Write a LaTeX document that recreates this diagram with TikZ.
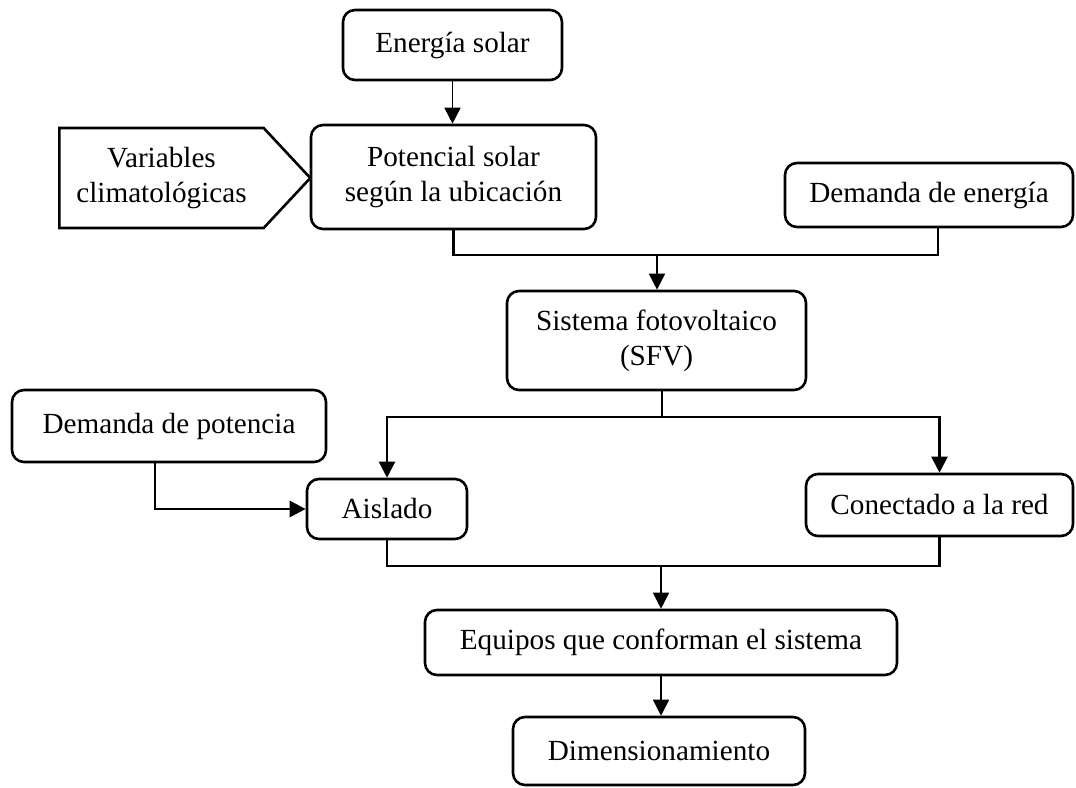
\documentclass[tikz,border=0pt]{standalone}
\usepackage{fontspec}
\setmainfont{Liberation Serif}
\usetikzlibrary{arrows.meta,positioning,shapes.symbols}

\newcommand{\flowfont}{\fontsize{14.6}{17.5}\selectfont}

\begin{document}
\begin{tikzpicture}[x=0.5pt,y=-0.5pt,>={Triangle[length=8pt,width=8pt]},
        flowbox/.style={draw,line width=1.3pt,rounded corners=6pt,align=center,
                        inner sep=2pt,font=\flowfont},
        inbox/.style={draw,line width=1.3pt,shape=signal,signal to=east,
                      signal pointer angle=94,align=center,inner sep=2pt,font=\flowfont},
        link/.style={line width=0.8pt},
        bus/.style={line width=1.1pt}]
        \useasboundingbox (0,0) rectangle (1076,787);

        \node[flowbox,minimum width=109.5pt,minimum height=35pt] (energia) at (452.5,45) {Energía solar};
        \node[flowbox,minimum width=142.5pt,minimum height=52pt] (potencial) at (453.5,177)
              {Potencial solar\\según la ubicación};
        \node[inbox,minimum width=125.5pt,minimum height=50pt,anchor=west] (variables) at (58,178)
              {Variables\\climatológicas};
        \node[flowbox,minimum width=144pt,minimum height=32pt] (demEnergia) at (929,195) {Demanda de energía};
        \node[flowbox,minimum width=149.5pt,minimum height=49.5pt] (sfv) at (656.5,340.5)
              {Sistema fotovoltaico\\(SFV)};
        \node[flowbox,minimum width=157pt,minimum height=36pt] (demPotencia) at (169,426) {Demanda de potencia};
        \node[flowbox,minimum width=80pt,minimum height=30pt] (aislado) at (387,509) {Aislado};
        \node[flowbox,minimum width=133.5pt,minimum height=31pt] (conectado) at (939.5,505) {Conectado a la red};
        \node[flowbox,minimum width=236pt,minimum height=32.5pt] (equipos) at (661,642.5)
              {Equipos que conforman el sistema};
        \node[flowbox,minimum width=146pt,minimum height=34pt] (dimension) at (659,751) {Dimensionamiento};

        \coordinate (joinA) at (657,255);
        \coordinate (joinB) at (662,417);
        \coordinate (joinC) at (661,566);

        \draw[->,link] (energia.south) -- (energia.south |- potencial.north);
        \draw[bus] (potencial.south) -- (potencial.south |- joinA)
              -- ([xshift=4.5pt]demEnergia.south |- joinA) -- ([xshift=4.5pt]demEnergia.south);
        \draw[->,link] (joinA) -- (joinA |- sfv.north);

        \draw[link] (joinB |- sfv.south) -- (joinB);
        \draw[->,bus] (joinB) -| (aislado.north);
        \draw[->,bus] (joinB) -| (conectado.north);
        \draw[->,line width=1.4pt] ([xshift=-7pt]demPotencia.south) |- (aislado.west);

        \draw[bus] (aislado.south) -- (aislado.south |- joinC)
              -- (conectado.south |- joinC) -- (conectado.south);
        \draw[->,link] (joinC) -- (joinC |- equipos.north);
        \draw[->,link] (equipos.south) -- (equipos.south |- dimension.north);
    \end{tikzpicture}
\end{document}
